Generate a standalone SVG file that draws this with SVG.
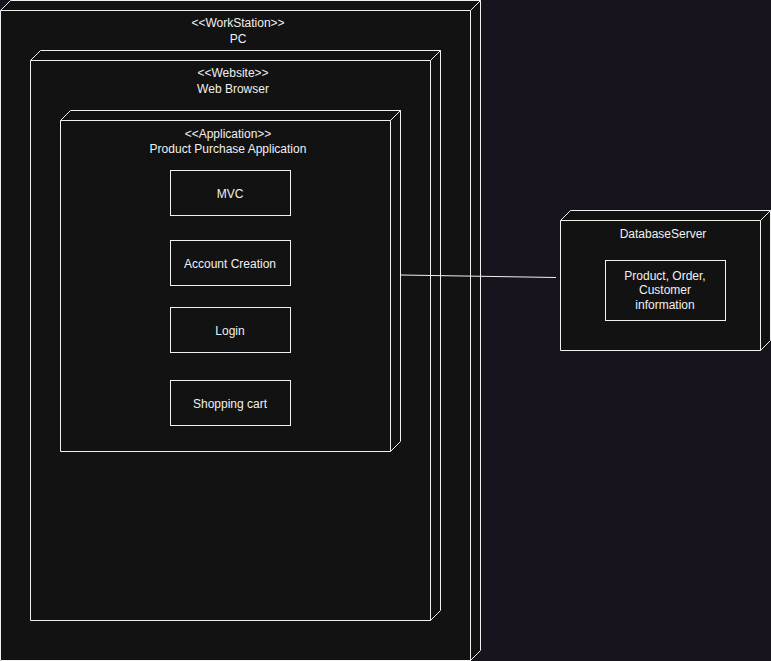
<svg xmlns="http://www.w3.org/2000/svg" width="771" height="661" viewBox="0 0 771 661">
<style>
.bg{fill:#18141d}
.n{fill:#121212;stroke:#f0f0f0;stroke-width:1}
.e{fill:none;stroke:#f0f0f0;stroke-width:1}
.b{fill:#121212;stroke:#f0f0f0;stroke-width:1}
text{font-family:"Liberation Sans",Arial,sans-serif;font-size:12px;fill:#f0f0f0;text-anchor:middle}
.c{fill:none;stroke:#f0f0f0;stroke-width:1}
</style>
<rect class="bg" x="0" y="0" width="771" height="661"/>
<g id="pc">
<path class="n" d="M0.5,10.5 L10.5,0.5 L480.5,0.5 L480.5,650.5 L470.5,660.5 L0.5,660.5 Z"/>
<path class="e" d="M0.5,10.5 L470.5,10.5 L480.5,0.5 M470.5,10.5 L470.5,660.5"/>
<text x="238" y="27">&lt;&lt;WorkStation&gt;&gt;</text>
<text x="238" y="43">PC</text>
</g>
<g id="browser">
<path class="n" d="M30.5,60.5 L40.5,50.5 L440.5,50.5 L440.5,610.5 L430.5,620.5 L30.5,620.5 Z"/>
<path class="e" d="M30.5,60.5 L430.5,60.5 L440.5,50.5 M430.5,60.5 L430.5,620.5"/>
<text x="233" y="77">&lt;&lt;Website&gt;&gt;</text>
<text x="233" y="93">Web Browser</text>
</g>
<g id="app">
<path class="n" d="M60.5,120.5 L70.5,110.5 L400.5,110.5 L400.5,441.5 L390.5,451.5 L60.5,451.5 Z"/>
<path class="e" d="M60.5,120.5 L390.5,120.5 L400.5,110.5 M390.5,120.5 L390.5,451.5"/>
<text x="228" y="138">&lt;&lt;Application&gt;&gt;</text>
<text x="228" y="153">Product Purchase Application</text>
</g>
<g id="mvc">
<rect class="b" x="170.5" y="170.5" width="120" height="45"/>
<text x="230" y="198">MVC</text>
</g>
<g id="account">
<rect class="b" x="170.5" y="240.5" width="120" height="45"/>
<text x="230" y="268">Account Creation</text>
</g>
<g id="login">
<rect class="b" x="170.5" y="307.5" width="120" height="45"/>
<text x="230" y="335">Login</text>
</g>
<g id="cart">
<rect class="b" x="170.5" y="380.5" width="120" height="45"/>
<text x="230" y="408">Shopping cart</text>
</g>
<g id="db">
<path class="n" d="M560.5,220.5 L570.5,210.5 L770.5,210.5 L770.5,340.5 L760.5,350.5 L560.5,350.5 Z"/>
<path class="e" d="M560.5,220.5 L760.5,220.5 L770.5,210.5 M760.5,220.5 L760.5,350.5"/>
<text x="663" y="238">DatabaseServer</text>
</g>
<g id="dbinfo">
<rect class="b" x="605.5" y="260.5" width="120" height="60"/>
<text x="665" y="280">Product, Order,</text>
<text x="665" y="294">Customer</text>
<text x="665" y="309">information</text>
</g>
<g id="connectors">
<path class="c" d="M400.5,275 L556,277.5"/>
</g>
</svg>
